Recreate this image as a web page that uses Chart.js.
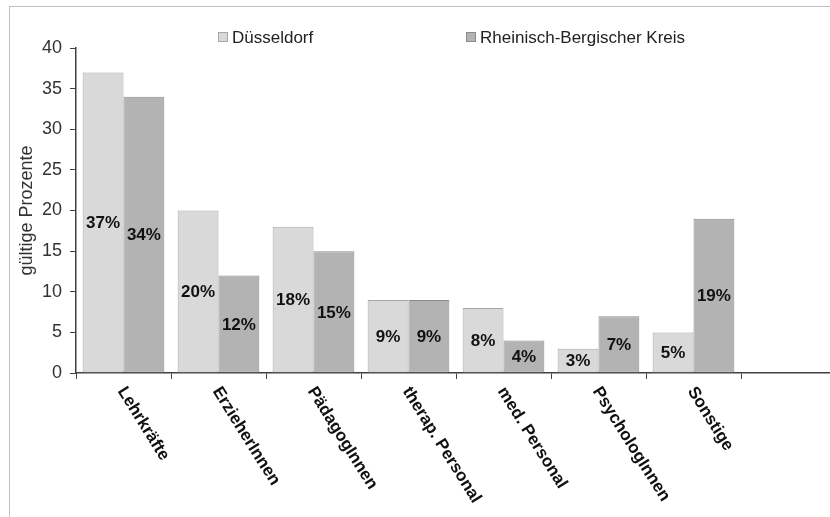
<!DOCTYPE html>
<html>
<head>
<meta charset="utf-8">
<script src="https://cdn.jsdelivr.net/npm/chart.js@4"></script>
<style>
  html, body { margin: 0; padding: 0; background: #fff; overflow: hidden; }
  #wrap { width: 850px; height: 517px; position: relative; }
</style>
</head>
<body>
<div id="wrap"><canvas id="chart"></canvas></div>
<script>
// categories (last one is empty, as in the original axis)
const categories = ["Lehrkräfte", "ErzieherInnen", "PädagogInnen", "therap. Personal", "med. Personal", "PsychologInnen", "Sonstige", ""];
const duesseldorf = [37, 20, 18, 9, 8, 3, 5, null];
const rheinBerg = [34, 12, 15, 9, 4, 7, 19, null];
const seriesNames = ["Düsseldorf", "Rheinisch-Bergischer Kreis"];
const yTicks = [0, 5, 10, 15, 20, 25, 30, 35, 40];

const FONT = "'Liberation Sans', Arial, sans-serif";

// outer frame like the pasted office chart
const framePlugin = {
  id: "frame",
  beforeDraw(chart) {
    const ctx = chart.ctx;
    ctx.save();
    ctx.strokeStyle = "#c0c0c0";
    ctx.lineWidth = 1;
    ctx.strokeRect(9.5, 6.5, chart.width + 20, chart.height + 20);
    ctx.restore();
  }
};

// legend drawn by hand so the two items sit where the original puts them
const legendPlugin = {
  id: "manualLegend",
  afterDraw(chart, args, opts) {
    const ctx = chart.ctx;
    ctx.save();
    ctx.font = `17px ${FONT}`;
    ctx.textBaseline = "middle";
    chart.data.datasets.forEach((ds, i) => {
      const x = opts.xs[i];
      const y = opts.y;
      ctx.fillStyle = ds.backgroundColor;
      ctx.fillRect(x, y - 5, 10, 10);
      ctx.strokeStyle = ds.borderColor;
      ctx.lineWidth = 1;
      ctx.strokeRect(x + 0.5, y - 4.5, 9, 9);
      ctx.fillStyle = "#222";
      ctx.fillText(ds.label, x + 14, y + 1);
    });
    ctx.restore();
  }
};

// percentage labels in the middle of every bar
const valueLabels = {
  id: "valueLabels",
  afterDatasetsDraw(chart) {
    const ctx = chart.ctx;
    ctx.save();
    ctx.font = `bold 17px ${FONT}`;
    ctx.fillStyle = "#111";
    ctx.textAlign = "center";
    ctx.textBaseline = "middle";
    chart.data.datasets.forEach((ds, di) => {
      chart.getDatasetMeta(di).data.forEach((bar, i) => {
        const v = ds.data[i];
        if (v == null) return;
        ctx.fillText(v + "%", bar.x, (bar.y + bar.base) / 2 + 1);
      });
    });
    ctx.restore();
  }
};

// x labels rotated clockwise, starting under each category
const slantLabels = {
  id: "slantLabels",
  afterDraw(chart) {
    const ctx = chart.ctx;
    const xs = chart.scales.x;
    ctx.save();
    ctx.font = `bold 17px ${FONT}`;
    ctx.fillStyle = "#111";
    ctx.textAlign = "left";
    ctx.textBaseline = "top";
    categories.forEach((c, i) => {
      if (!c) return;
      ctx.save();
      ctx.translate(xs.getPixelForValue(i) + 5, xs.top + 11);
      ctx.rotate(58 * Math.PI / 180);
      ctx.fillText(c, 0, 0);
      ctx.restore();
    });
    ctx.restore();
  }
};

new Chart(document.getElementById("chart"), {
  type: "bar",
  data: {
    labels: categories,
    datasets: [
      { label: seriesNames[0], data: duesseldorf, backgroundColor: "#d9d9d9", borderColor: "#a6a6a6", borderWidth: 1, borderSkipped: false },
      { label: seriesNames[1], data: rheinBerg, backgroundColor: "#b3b3b3", borderColor: "#8a8a8a", borderWidth: 1, borderSkipped: false }
    ]
  },
  options: {
    responsive: true,
    maintainAspectRatio: false,
    animation: false,
    layout: { padding: { left: 0, top: 48, right: 14, bottom: 0 } },
    datasets: { bar: { barPercentage: 1, categoryPercentage: 0.86 } },
    plugins: {
      legend: { display: false },
      tooltip: { enabled: false },
      manualLegend: { xs: [218, 466], y: 37 }
    },
    scales: {
      x: {
        offset: true,
        grid: { offset: true, drawOnChartArea: false, drawTicks: true, tickLength: 6, color: "#404040" },
        border: { color: "#404040", width: 1.5 },
        ticks: { display: false },
        afterFit: s => { s.height = 144; }
      },
      y: {
        min: 0,
        max: 40,
        afterBuildTicks: s => { s.ticks = yTicks.map(v => ({ value: v })); },
        grid: { drawOnChartArea: false, drawTicks: true, tickLength: 6, color: "#404040" },
        border: { color: "#404040", width: 1.5 },
        ticks: { font: { family: FONT, size: 18 }, color: "#333", padding: 8 },
        title: { display: true, text: "gültige Prozente", font: { family: FONT, size: 18 }, color: "#333", padding: { top: 16, bottom: 0 } },
        afterFit: s => { s.width = 76; }
      }
    }
  },
  plugins: [framePlugin, legendPlugin, valueLabels, slantLabels]
});
</script>
</body>
</html>
